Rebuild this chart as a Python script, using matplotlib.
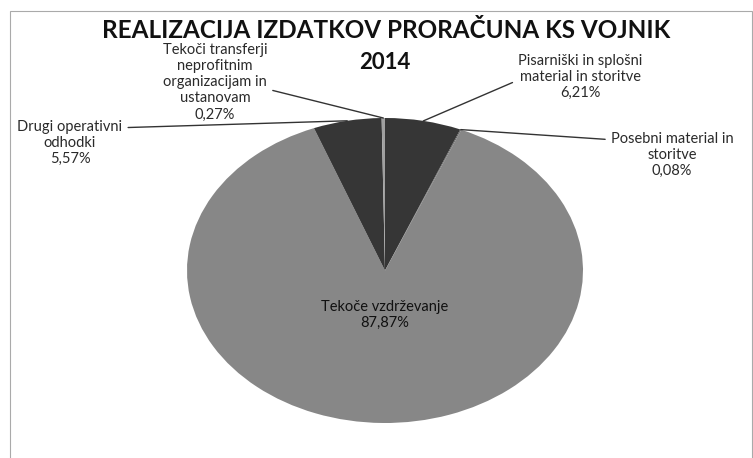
import numpy as np
import matplotlib.pyplot as plt
from matplotlib.patches import Rectangle

plt.rcParams['font.family'] = ['Lato', 'DejaVu Sans']

# slices, clockwise from 12 o'clock (Excel order)
labels = ['Pisarniški in splošni\nmaterial in storitve',
          'Posebni material in\nstoritve',
          'Tekoče vzdrževanje',
          'Drugi operativni\nodhodki',
          'Tekoči transferji\nneprofitnim\norganizacijam in\nustanovam']
shares = [6.21, 0.08, 87.87, 5.57, 0.27]
colors = ['#363636', '#555555', '#878787', '#363636', '#a0a0a0']

# label text positions (figure pixels, from top) and where the leader leaves the text
label_pos = [(580, 77), (672, 155), None, (70, 143), (215, 82)]
label_rel = [(0.0, 0.43), (0.0, 0.83), None, (1.0, 0.83), (1.0, 0.41)]

W, H = 753, 458
fig = plt.figure(figsize=(W / 100, H / 100), dpi=100)

# pie is drawn squashed (wider than tall) like the original
ax = fig.add_axes([187 / W, (H - 423) / H, 396 / W, 305 / H])
wedges, _ = ax.pie(shares, startangle=90, counterclock=False, colors=colors,
                   radius=1, wedgeprops=dict(linewidth=0))
ax.set_aspect('auto')
ax.set_xlim(-1, 1)
ax.set_ylim(-1, 1)

for i, w in enumerate(wedges):
    txt = labels[i] + '\n' + f'{shares[i]:.2f}'.replace('.', ',') + '%'
    if label_pos[i] is None:
        ax.text(0, -0.29, txt, ha='center', va='center', fontsize=10.5,
                color='#111111', linespacing=1.2, multialignment='center')
        continue
    mid = np.deg2rad((w.theta1 + w.theta2) / 2)
    px, py = label_pos[i]
    ax.annotate(txt, xy=(np.cos(mid), np.sin(mid)), xycoords='data',
                xytext=(px, H - py), textcoords='figure pixels',
                ha='center', va='center', fontsize=10.5, color='#2a2a2a',
                linespacing=1.2, multialignment='center', annotation_clip=False,
                arrowprops=dict(arrowstyle='-', color='#333333', lw=1.0,
                                relpos=label_rel[i], shrinkA=2, shrinkB=0))

fig.text(386 / W, 1 - 31 / H, 'REALIZACIJA IZDATKOV PRORAČUNA KS VOJNIK',
         ha='center', va='center', fontsize=17.5, fontweight='bold', color='#111111')
fig.text(385 / W, 1 - 63 / H, '2014', ha='center', va='center',
         fontsize=16, fontweight='bold', color='#111111')

# chart frame
fig.add_artist(Rectangle((10 / W, -0.02), (W - 11) / W, (H - 11) / H + 0.02,
                         transform=fig.transFigure, fill=False,
                         edgecolor='#aaaaaa', linewidth=0.8))

fig.savefig('out.png', dpi=100)
